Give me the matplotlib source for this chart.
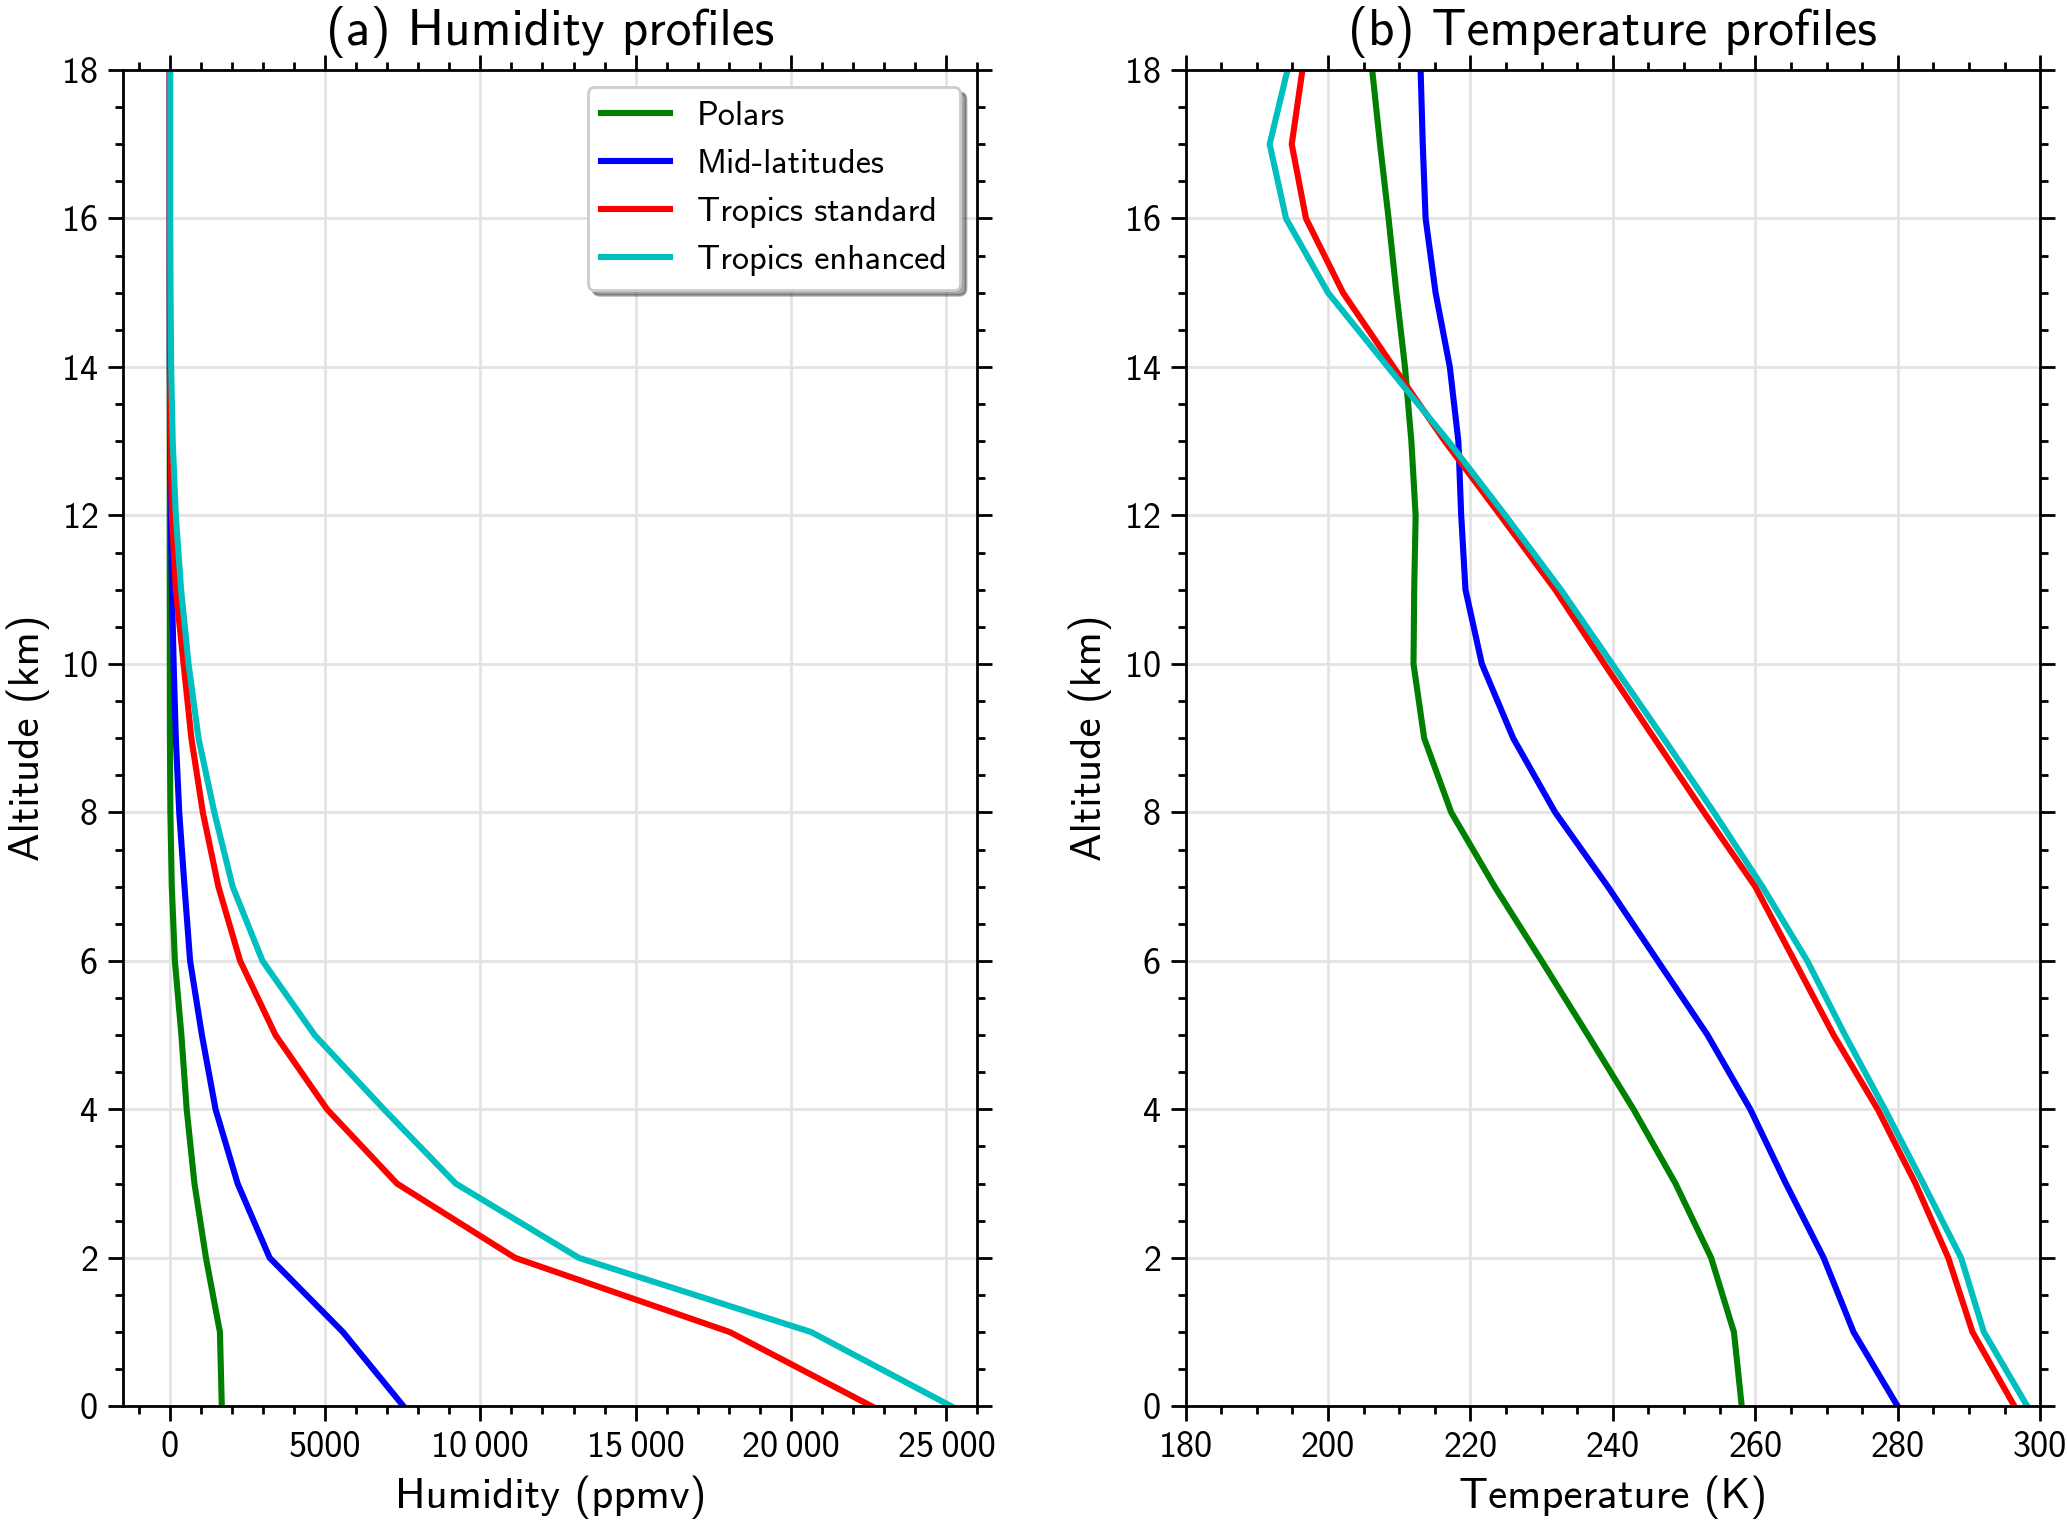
import matplotlib
matplotlib.use("Agg")
import matplotlib.pyplot as plt
from matplotlib.ticker import MultipleLocator, FuncFormatter

plt.rcParams['font.family'] = ['cmss10', 'DejaVu Sans']
plt.rcParams['axes.unicode_minus'] = False
plt.rcParams['mathtext.fontset'] = 'cm'
plt.rcParams['axes.formatter.use_mathtext'] = True

# altitude levels (km)
altitude = [0, 1, 2, 3, 4, 5, 6, 7, 8, 9, 10, 11, 12, 13, 14, 15, 16, 17, 18]

# humidity profiles (ppmv)
hum_polar = [1680, 1620, 1170, 800, 550, 380, 170, 70, 25, 10, 6, 5, 4, 4, 4, 4, 4, 4, 4]
hum_mid = [7530, 5580, 3220, 2190, 1480, 1040, 660, 480, 310, 200, 130, 75, 40, 15, 8, 5, 4, 4, 4]
hum_trop = [22600, 18030, 11120, 7320, 5070, 3410, 2270, 1570, 1070, 700, 450, 200, 75, 30, 10, 5, 4, 4, 4]
hum_trop_enh = [25160, 20650, 13170, 9210, 6900, 4670, 2990, 2030, 1440, 930, 610, 370, 200, 100, 50, 30, 20, 20, 20]

# temperature profiles (K)
temp_polar = [258.1, 257.0, 253.8, 248.8, 242.9, 236.5, 230.0, 223.4, 217.3, 213.5,
              212.0, 212.1, 212.3, 211.7, 210.8, 209.6, 208.5, 207.3, 206.2]
temp_mid = [280.0, 273.8, 269.6, 264.3, 259.3, 253.3, 246.3, 239.3, 231.9, 226.0,
            221.6, 219.3, 218.7, 218.3, 217.1, 215.1, 213.7, 213.3, 213.0]
temp_trop = [296.4, 290.5, 287.1, 282.5, 277.2, 271.0, 265.5, 260.0, 252.8, 245.8,
             238.8, 231.9, 224.2, 216.4, 209.2, 202.1, 196.9, 194.9, 196.4]
temp_trop_enh = [298.2, 292.1, 288.9, 283.6, 278.2, 272.6, 267.3, 261.0, 254.2, 247.1,
                 239.9, 232.7, 224.9, 216.9, 208.4, 200.0, 194.1, 191.8, 194.3]

labels = ['Polars', 'Mid-latitudes', 'Tropics standard', 'Tropics enhanced']
colors = ['g', 'b', 'r', 'c']


def fmt_thousands(v, pos):
    v = int(round(v))
    if abs(v) >= 10000:
        return f"{v:,}".replace(",", "\u2009")
    return str(v)


def style_axes(ax):
    ax.tick_params(which='both', direction='out', top=True, right=True,
                   width=1.0, labelsize=13, color='black')
    ax.tick_params(which='major', length=5.5)
    ax.tick_params(which='minor', length=2.8)
    for s in ax.spines.values():
        s.set_linewidth(1.0)
    ax.grid(True, which='major', color='#e3e3e3', linewidth=1.0)
    ax.set_axisbelow(True)
    ax.set_ylim(0, 18)
    ax.yaxis.set_major_locator(MultipleLocator(2))
    ax.yaxis.set_minor_locator(MultipleLocator(0.5))
    ax.set_ylabel('Altitude (km)', fontsize=15.5)


fig, (ax1, ax2) = plt.subplots(1, 2, figsize=(10.335, 7.61), dpi=200)
fig.subplots_adjust(left=0.0595, right=0.987, bottom=0.076, top=0.954, wspace=0.2436)

hum = [hum_polar, hum_mid, hum_trop, hum_trop_enh]
temp = [temp_polar, temp_mid, temp_trop, temp_trop_enh]

for h, c, lab in zip(hum, colors, labels):
    ax1.plot(h, altitude, color=c, linewidth=2.2, label=lab)
for t, c, lab in zip(temp, colors, labels):
    ax2.plot(t, altitude, color=c, linewidth=2.2, label=lab)

style_axes(ax1)
ax1.set_xlim(-1500, 26000)
ax1.xaxis.set_major_locator(MultipleLocator(5000))
ax1.xaxis.set_minor_locator(MultipleLocator(1000))
ax1.xaxis.set_major_formatter(FuncFormatter(fmt_thousands))
ax1.set_xlabel('Humidity (ppmv)', fontsize=15.5)
ax1.set_title('(a) Humidity profiles', fontsize=18.5, pad=9)
ax1.legend(loc='upper right', fontsize=12.3, shadow=True, fancybox=True,
           framealpha=1, edgecolor='0.8')

style_axes(ax2)
ax2.set_xlim(180, 300)
ax2.xaxis.set_major_locator(MultipleLocator(20))
ax2.xaxis.set_minor_locator(MultipleLocator(5))
ax2.xaxis.set_major_formatter(FuncFormatter(lambda v, p: str(int(round(v)))))
ax2.set_xlabel('Temperature (K)', fontsize=15.5)
ax2.set_title('(b) Temperature profiles', fontsize=18.5, pad=9)

fig.savefig('out.png', dpi=200)
